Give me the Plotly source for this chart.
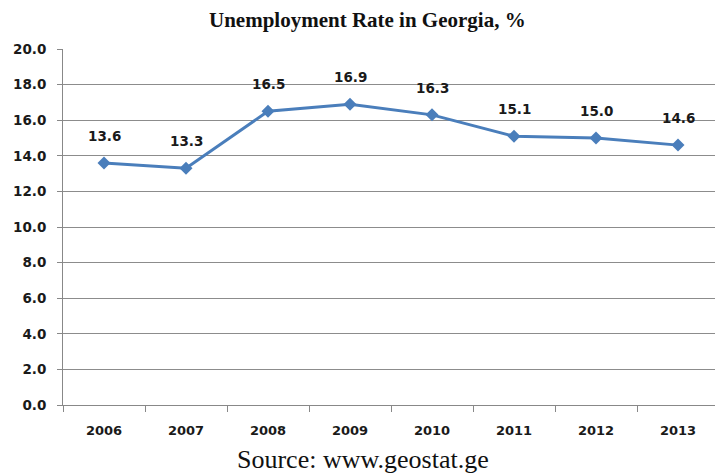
import plotly.graph_objects as go

years = ["2006", "2007", "2008", "2009", "2010", "2011", "2012", "2013"]
rates = [13.6, 13.3, 16.5, 16.9, 16.3, 15.1, 15.0, 14.6]
y_ticks = [0, 2, 4, 6, 8, 10, 12, 14, 16, 18, 20]

idx = list(range(len(years)))
bounds = [i - 0.5 for i in range(len(years) + 1)]
LBL = "DejaVu Sans"

fig = go.Figure()
fig.add_trace(go.Scatter(
    x=idx, y=rates, mode="lines+markers",
    line=dict(color="#4A7EBB", width=3),
    marker=dict(symbol="diamond", size=10, color="#4A7EBB"),
    showlegend=False, hoverinfo="y",
))
for i, v in zip(idx, rates):
    fig.add_annotation(x=i, y=v, text=f"{v:.1f}", showarrow=False, yshift=27,
                       font=dict(family=LBL, size=13.5, color="#1A1A1A", weight="bold"))

fig.update_layout(
    width=723, height=474,
    paper_bgcolor="white", plot_bgcolor="white",
    margin=dict(l=55, r=12, t=41, b=77),
    title=dict(text="<b>Unemployment Rate in Georgia, %</b>", x=0.497, xanchor="center",
               y=0.975, yanchor="middle",
               font=dict(family="Liberation Serif", size=21, color="#111111")),
    font=dict(family=LBL),
)
fig.update_xaxes(
    range=[-0.5, len(years) - 0.5], tickvals=idx, ticktext=years, ticks="",
    showline=True, linecolor="#888888", linewidth=1, zeroline=False, automargin=False,
    showgrid=False, tickfont=dict(family=LBL, size=13, color="#1A1A1A", weight="bold"),
    ticklabelstandoff=13,
    minor=dict(tickvals=bounds, ticks="outside", ticklen=6, tickcolor="#888888", showgrid=False),
)
fig.update_yaxes(
    range=[0, 20], tickvals=y_ticks, ticktext=[f"{t:.1f}" for t in y_ticks],
    ticks="outside", ticklen=5, tickcolor="#888888", automargin=False,
    showline=True, linecolor="#888888", linewidth=1,
    showgrid=True, gridcolor="#8C8C8C", gridwidth=1, zeroline=False,
    tickfont=dict(family=LBL, size=13.5, color="#1A1A1A", weight="bold"),
    ticklabelstandoff=8,
)
fig.add_annotation(text="Source: www.geostat.ge", xref="paper", yref="paper",
                   x=0.457, y=-0.152, xanchor="center", yanchor="middle", showarrow=False,
                   font=dict(family="Liberation Serif", size=26, color="#111111"))

fig.write_html("out.html")
